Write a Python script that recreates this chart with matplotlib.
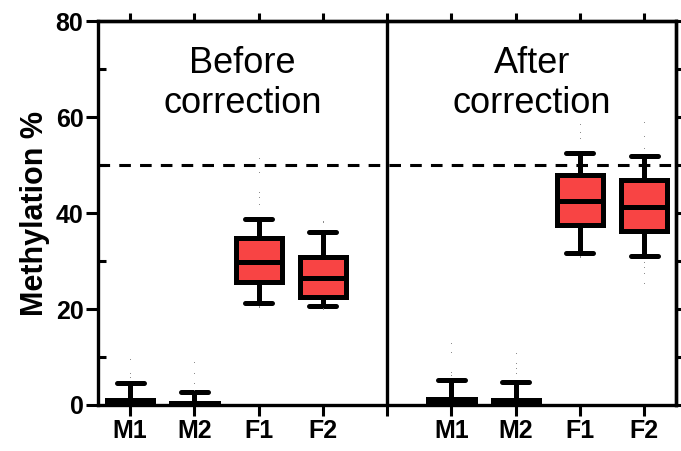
import matplotlib
matplotlib.use('Agg')
import matplotlib.pyplot as plt

plt.rcParams['font.family'] = ['Liberation Sans', 'DejaVu Sans']

# groups, left panel then right panel
labels = ['M1', 'M2', 'F1', 'F2']
positions_before = [1, 2, 3, 4]
positions_after = [6, 7, 8, 9]

# whisker low, q1, median, q3, whisker high
before_stats = [
    (0.0, 0.0, 0.3, 1.0, 4.6),
    (0.0, 0.0, 0.2, 0.5, 2.7),
    (21.3, 25.7, 29.9, 34.9, 38.8),
    (20.7, 22.5, 26.5, 30.9, 36.1),
]
after_stats = [
    (0.0, 0.0, 0.4, 1.2, 5.2),
    (0.0, 0.0, 0.3, 1.0, 4.8),
    (31.7, 37.6, 42.6, 48.0, 52.6),
    (31.1, 36.3, 41.3, 47.0, 51.8),
]
before_fliers = [
    [9.6, 6.7, 5.8],
    [9.0, 6.7, 4.6, 3.2],
    [51.5, 48.6, 44.5, 43.4, 41.8, 20.6, 20.4],
    [38.2, 38.4, 20.3, 20.1],
]
after_fliers = [
    [12.9, 11.0, 6.9, 6.3],
    [10.8, 8.7, 7.7, 6.7],
    [58.5, 57.0, 55.7, 31.0, 30.8],
    [58.9, 56.0, 53.6, 29.9, 28.8, 27.6, 25.5],
]
cutoff = 50


def make_stats(stats, fliers):
    out = []
    for (lo, q1, med, q3, hi), fl in zip(stats, fliers):
        out.append(dict(whislo=lo, q1=q1, med=med, q3=q3, whishi=hi, fliers=fl))
    return out


fig = plt.figure(figsize=(6.81, 4.51), dpi=100)
ax = fig.add_axes([0.144, 0.102, 0.849, 0.851])

lw = 3.6
box_kw = dict(
    widths=0.72, capwidths=0.42, patch_artist=True, showfliers=True,
    boxprops=dict(facecolor='#F84444', edgecolor='black', linewidth=lw),
    medianprops=dict(color='black', linewidth=lw),
    whiskerprops=dict(color='black', linewidth=lw),
    capprops=dict(color='black', linewidth=lw, solid_capstyle='round'),
    flierprops=dict(marker='.', markersize=1.5, markerfacecolor='#777777',
                    markeredgecolor='none', linestyle='none'),
)
ax.bxp(make_stats(before_stats, before_fliers), positions=positions_before, **box_kw)
ax.bxp(make_stats(after_stats, after_fliers), positions=positions_after, **box_kw)

ax.axhline(cutoff, color='black', linewidth=2.2, linestyle=(0, (3.8, 3)), zorder=0)
ax.axvline(5, color='black', linewidth=2.4)

ax.set_xlim(0.5, 9.5)
ax.set_ylim(0, 80)

for s in ax.spines.values():
    s.set_linewidth(2.4)

ax.set_xticks(positions_before + [5] + positions_after)
ax.set_xticklabels(labels + [''] + labels, fontsize=18, fontweight='bold')
ax.tick_params(axis='x', direction='out', length=8, width=2.2, pad=2)

ax.set_yticks([0, 20, 40, 60, 80])
ax.set_yticks([10, 30, 50, 70], minor=True)
ax.set_yticklabels(['0', '20', '40', '60', '80'], fontsize=18, fontweight='bold')
ax.tick_params(axis='y', which='major', direction='out', length=8.5, width=2.2, pad=2)
ax.tick_params(axis='y', which='minor', direction='in', length=6, width=2.2)
ax.set_ylabel('Methylation %', fontsize=22, fontweight='bold', labelpad=4)

# ticks on the top and right edges of the frame
top = ax.secondary_xaxis('top')
top.set_xticks(positions_before + [5] + positions_after)
top.set_xticklabels([])
top.tick_params(direction='out', length=6, width=2.2)
top.spines['top'].set_linewidth(2.4)

right = ax.secondary_yaxis('right')
right.set_yticks(list(range(0, 81, 10)))
right.set_yticklabels([])
right.tick_params(direction='out', length=6, width=2.2)
right.spines['right'].set_linewidth(2.4)

ax.text(2.75, 67, 'Before\ncorrection', ha='center', va='center', fontsize=26)
ax.text(7.25, 67, 'After\ncorrection', ha='center', va='center', fontsize=26)

fig.savefig('out.png', dpi=100)
